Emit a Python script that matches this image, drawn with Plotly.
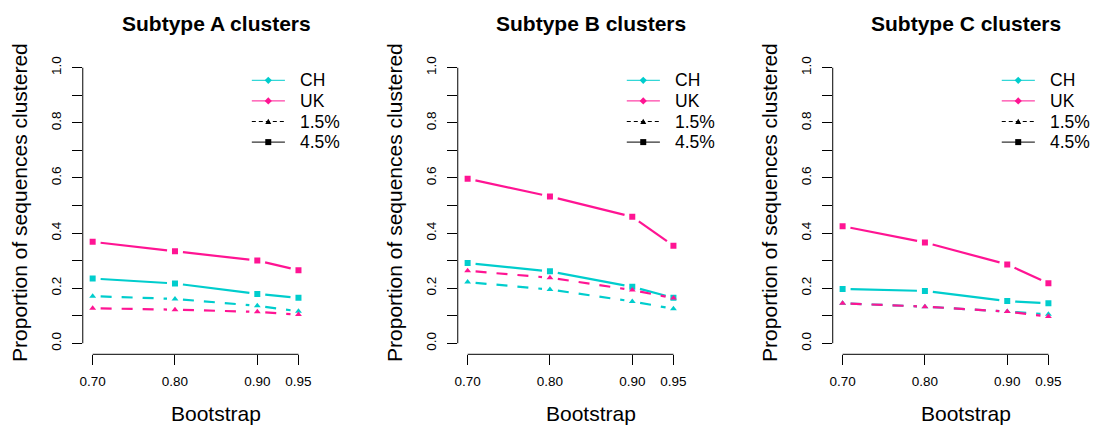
import math
import plotly.graph_objects as go

# ---- data -------------------------------------------------------------
bootstrap = [0.70, 0.80, 0.90, 0.95]
x_tick_labels = ["0.70", "0.80", "0.90", "0.95"]
y_tick_values = [0.0, 0.1, 0.2, 0.3, 0.4, 0.5, 0.6, 0.7, 0.8, 0.9, 1.0]
y_tick_labels = ["0.0", "", "0.2", "", "0.4", "", "0.6", "", "0.8", "", "1.0"]

panel_titles = ["Subtype A clusters", "Subtype B clusters", "Subtype C clusters"]

a_ch_45 = [0.235, 0.217, 0.179, 0.165]
a_ch_15 = [0.171, 0.161, 0.136, 0.116]
a_uk_45 = [0.368, 0.334, 0.300, 0.265]
a_uk_15 = [0.127, 0.122, 0.114, 0.104]

b_ch_45 = [0.291, 0.261, 0.205, 0.165]
b_ch_15 = [0.222, 0.195, 0.152, 0.125]
b_uk_45 = [0.597, 0.533, 0.459, 0.354]
b_uk_15 = [0.263, 0.238, 0.193, 0.164]

c_ch_45 = [0.197, 0.190, 0.153, 0.145]
c_ch_15 = [0.145, 0.133, 0.115, 0.105]
c_uk_45 = [0.425, 0.366, 0.286, 0.218]
c_uk_15 = [0.145, 0.133, 0.115, 0.097]

legend_labels = ["CH", "UK", "1.5%", "4.5%"]

# ---- styling ----------------------------------------------------------
CYAN = "#00CDCD"
PINK = "#FF1493"
INK = "#000000"
FONT = "Liberation Sans, Arial, sans-serif"

W, H = 1095, 425
panel_left = [80, 456, 832]          # px, left edge of each plot region
px_per_x = 825.5                     # px per bootstrap unit
x_lo, x_hi = 0.688, 1.012
y_lo, y_hi = -0.04, 1.04
top_px, bottom_px = 56.7, 354.3
px_per_y = (bottom_px - top_px) / (y_hi - y_lo)
gap_px = 8.0                         # gap left around points on lines

panels = [
    [(a_ch_45, CYAN, "solid", "square"), (a_ch_15, CYAN, "dash", "triangle-up"),
     (a_uk_45, PINK, "solid", "square"), (a_uk_15, PINK, "dash", "triangle-up")],
    [(b_ch_45, CYAN, "solid", "square"), (b_ch_15, CYAN, "dash", "triangle-up"),
     (b_uk_45, PINK, "solid", "square"), (b_uk_15, PINK, "dash", "triangle-up")],
    [(c_ch_45, CYAN, "solid", "square"), (c_ch_15, CYAN, "dash", "triangle-up"),
     (c_uk_45, PINK, "solid", "square"), (c_uk_15, PINK, "dash", "triangle-up")],
]


def gapped_segments(xs, ys):
    """Split a polyline into segments that stop short of each point."""
    gx, gy = [], []
    for i in range(len(xs) - 1):
        dx = (xs[i + 1] - xs[i]) * px_per_x
        dy = (ys[i + 1] - ys[i]) * px_per_y
        length = math.hypot(dx, dy)
        if length <= 2 * gap_px:
            continue
        f = gap_px / length
        gx += [xs[i] + (xs[i + 1] - xs[i]) * f, xs[i + 1] - (xs[i + 1] - xs[i]) * f, None]
        gy += [ys[i] + (ys[i + 1] - ys[i]) * f, ys[i + 1] - (ys[i + 1] - ys[i]) * f, None]
    return gx, gy


fig = go.Figure()
shapes = []
annotations = []

ydom = [(H - bottom_px) / H, (H - top_px) / H]

for p, series in enumerate(panels):
    sfx = "" if p == 0 else str(p + 1)
    xref, yref = "x" + sfx, "y" + sfx

    left = panel_left[p]
    right = min(left + (x_hi - x_lo) * px_per_x, W)
    xr_hi = x_lo + (right - left) / px_per_x

    for vals, color, dash, symbol in series:
        lx, ly = gapped_segments(bootstrap, vals)
        fig.add_trace(go.Scatter(
            x=lx, y=ly, mode="lines", xaxis=xref, yaxis=yref,
            line=dict(color=color, width=2.2,
                      dash="11px,10px" if dash == "dash" else "solid"),
            hoverinfo="skip", showlegend=False))
        fig.add_trace(go.Scatter(
            x=bootstrap, y=vals, mode="markers", xaxis=xref, yaxis=yref,
            marker=dict(color=color, symbol=symbol, size=6, line=dict(width=0)),
            showlegend=False))

    axis_common = dict(showgrid=False, zeroline=False, showline=False,
                       ticks="outside", ticklen=10, tickwidth=1, tickcolor=INK,
                       tickfont=dict(family=FONT, size=13.5, color="#000"))
    fig.layout["xaxis" + sfx] = dict(
        axis_common, domain=[left / W, right / W], range=[x_lo, xr_hi],
        anchor=yref, tickvals=bootstrap, ticktext=x_tick_labels,
        ticklabelstandoff=4)
    fig.layout["yaxis" + sfx] = dict(
        axis_common, domain=ydom, range=[y_lo, y_hi], anchor=xref,
        tickvals=y_tick_values, ticktext=y_tick_labels, tickangle=-90,
        ticklabelstandoff=5)

    # axis lines spanning only the tick range
    shapes.append(dict(type="line", xref=xref, yref=yref + " domain",
                       x0=bootstrap[0], x1=bootstrap[-1], y0=0, y1=0,
                       line=dict(color=INK, width=1)))
    shapes.append(dict(type="line", xref=xref + " domain", yref=yref,
                       x0=0, x1=0, y0=y_tick_values[0], y1=y_tick_values[-1],
                       line=dict(color=INK, width=1)))

    centre = (left + left + (x_hi - x_lo) * px_per_x) / 2
    annotations.append(dict(text="<b>" + panel_titles[p] + "</b>", x=centre / W,
                            y=(H - 23.5) / H, xref="paper", yref="paper",
                            showarrow=False, xanchor="center", yanchor="middle",
                            font=dict(family=FONT, size=21, color="#000")))
    annotations.append(dict(text="Bootstrap", x=centre / W, y=(H - 413) / H,
                            xref="paper", yref="paper", showarrow=False,
                            xanchor="center", yanchor="middle",
                            font=dict(family=FONT, size=21, color="#000")))
    annotations.append(dict(text="Proportion of sequences clustered",
                            x=(left - 64) / W, y=(H - 202) / H,
                            xref="paper", yref="paper", showarrow=False,
                            textangle=-90, xanchor="center", yanchor="middle",
                            font=dict(family=FONT, size=21, color="#000")))

    # legend block
    for i, lab in enumerate(legend_labels):
        yc = (H - (80.3 + 20.6 * i)) / H
        x0 = (left + 169.5) / W
        x1 = (left + 202.7) / W
        xc = (left + 186.0) / W
        lcolor = [CYAN, PINK, "#000", "#000"][i]
        ldash = "4px,3px" if i == 2 else "solid"
        shapes.append(dict(type="line", xref="paper", yref="paper",
                           x0=x0, x1=x1, y0=yc, y1=yc,
                           line=dict(color=lcolor, width=1, dash=ldash)))
        if i < 2:
            path = "M -3.6 0 L 0 3.6 L 3.6 0 L 0 -3.6 Z"
        elif i == 2:
            path = "M -3 -2.6 L 3 -2.6 L 0 2.8 Z"
        else:
            path = "M -3 -3 L 3 -3 L 3 3 L -3 3 Z"
        shapes.append(dict(type="path", xref="paper", yref="paper",
                           xsizemode="pixel", ysizemode="pixel",
                           xanchor=xc, yanchor=yc, path=path,
                           fillcolor=lcolor, line=dict(width=0)))
        annotations.append(dict(text=lab, x=(left + 215.5) / W, y=yc,
                                xref="paper", yref="paper", showarrow=False,
                                xanchor="left", yanchor="middle",
                                font=dict(family=FONT, size=17.5, color="#000")))

fig.update_layout(
    width=W, height=H, margin=dict(l=0, r=0, t=0, b=0),
    paper_bgcolor="white", plot_bgcolor="white",
    showlegend=False, shapes=shapes, annotations=annotations,
    font=dict(family=FONT),
)

fig.write_html("out.html")
